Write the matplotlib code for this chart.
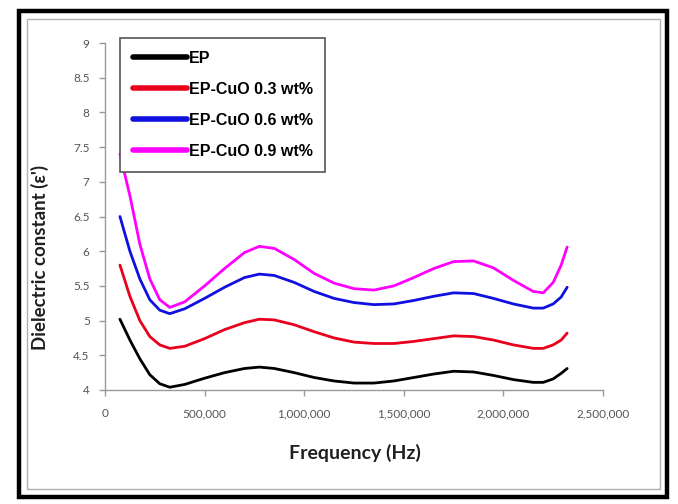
import matplotlib
matplotlib.use("Agg")
import matplotlib.pyplot as plt
from matplotlib.patches import Rectangle
from matplotlib.ticker import FuncFormatter, MultipleLocator

freq = [75000, 125000, 175000, 225000, 275000, 325000, 400000, 500000, 600000,
        700000, 775000, 850000, 950000, 1050000, 1150000, 1250000, 1350000,
        1450000, 1550000, 1650000, 1750000, 1850000, 1950000, 2050000, 2150000,
        2200000, 2250000, 2290000, 2320000]

ep = [5.02, 4.72, 4.45, 4.22, 4.09, 4.04, 4.08, 4.17, 4.25, 4.31, 4.33, 4.31,
      4.25, 4.18, 4.13, 4.10, 4.10, 4.13, 4.18, 4.23, 4.27, 4.26, 4.21, 4.15,
      4.11, 4.11, 4.16, 4.24, 4.31]
cuo03 = [5.80, 5.35, 5.00, 4.77, 4.65, 4.60, 4.63, 4.74, 4.87, 4.97, 5.02, 5.01,
         4.94, 4.84, 4.75, 4.69, 4.67, 4.67, 4.70, 4.74, 4.78, 4.77, 4.72, 4.65,
         4.60, 4.60, 4.65, 4.72, 4.82]
cuo06 = [6.50, 6.00, 5.60, 5.30, 5.15, 5.10, 5.17, 5.32, 5.48, 5.62, 5.67, 5.65,
         5.55, 5.42, 5.32, 5.26, 5.23, 5.24, 5.29, 5.35, 5.40, 5.39, 5.32, 5.24,
         5.18, 5.18, 5.24, 5.34, 5.48]
cuo09 = [7.40, 6.80, 6.10, 5.60, 5.30, 5.19, 5.27, 5.50, 5.75, 5.98, 6.07, 6.04,
         5.88, 5.68, 5.54, 5.46, 5.44, 5.50, 5.62, 5.75, 5.85, 5.86, 5.76, 5.58,
         5.42, 5.40, 5.55, 5.80, 6.06]

labels = ["EP", "EP-CuO 0.3 wt%", "EP-CuO 0.6 wt%", "EP-CuO 0.9 wt%"]
colors = ["#000000", "#e8001c", "#1010e0", "#ff00ff"]

W, H = 678, 504
fig = plt.figure(figsize=(W / 100, H / 100), dpi=100)
fig.patch.set_facecolor("white")

# outer frame
fig.patches.append(Rectangle((19 / W, 1 - 497 / H), (667 - 19) / W, (497 - 11) / H,
                             transform=fig.transFigure, fill=False,
                             edgecolor="black", linewidth=3.2, zorder=0))
fig.patches.append(Rectangle((27 / W, 1 - 489 / H), (660 - 27) / W, (489 - 19) / H,
                             transform=fig.transFigure, fill=False,
                             edgecolor="#b0b0b0", linewidth=1.0, zorder=0))

ax = fig.add_axes([105 / W, 1 - 390 / H, (603 - 105) / W, (390 - 43) / H])
ax.set_facecolor("none")

for y, lab, c in zip([ep, cuo03, cuo06, cuo09], labels, colors):
    ax.plot(freq, y, color=c, linewidth=2.0, label=lab, solid_capstyle="round",
            solid_joinstyle="round")

ax.set_xlim(0, 2500000)
ax.set_ylim(4, 9)
ax.xaxis.set_major_locator(MultipleLocator(500000))
ax.yaxis.set_major_locator(MultipleLocator(0.5))
ax.xaxis.set_major_formatter(FuncFormatter(lambda v, p: f"{int(v):,}"))
ax.yaxis.set_major_formatter(FuncFormatter(lambda v, p: f"{v:g}"))

for s in ["top", "right"]:
    ax.spines[s].set_visible(False)
for s in ["left", "bottom"]:
    ax.spines[s].set_color("#9a9a9a")
    ax.spines[s].set_linewidth(1.0)
ax.tick_params(axis="both", direction="out", length=4, width=1, color="#9a9a9a",
               labelsize=8.5, labelcolor="#555555")
ax.tick_params(axis="x", pad=9)
ax.tick_params(axis="y", pad=7)
for t in ax.get_xticklabels() + ax.get_yticklabels():
    t.set_family("Lato")

fig.text(355 / W, 1 - 453 / H, "Frequency (Hz)", ha="center", va="center",
         fontsize=14, fontweight="bold", family="Lato", color="#202020")
fig.text(40 / W, 1 - 257 / H, "Dielectric constant (\u03b5')", ha="center", va="center",
         rotation=90, fontsize=13.5, fontweight="bold", family="Lato", color="#202020")

leg = ax.legend(loc="upper left", bbox_to_anchor=(0.03, 1.014), frameon=True,
                fancybox=False, edgecolor="#555555", framealpha=1.0,
                prop={"family": "Liberation Sans", "weight": "bold", "size": 11.5},
                handlelength=3.4, handletextpad=0.1, labelspacing=1.0,
                borderpad=0.8, borderaxespad=0)
leg.get_frame().set_linewidth(1.2)
for h in leg.get_lines():
    h.set_linewidth(4.0)

fig.savefig("out.png", dpi=100, facecolor="white")
